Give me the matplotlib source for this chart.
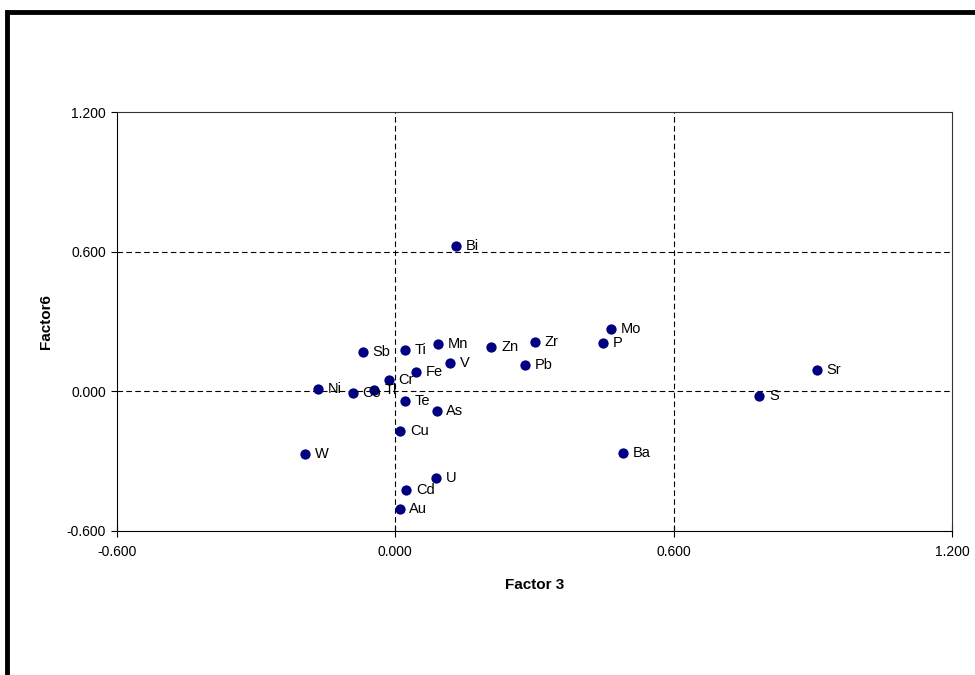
import matplotlib
matplotlib.use("Agg")
import matplotlib.pyplot as plt
from matplotlib.patches import Rectangle

plt.rcParams['font.family'] = ['Liberation Sans', 'DejaVu Sans']

elements = ["Sb", "Ti", "Mn", "V", "Fe", "Cr", "Ni", "Co", "Tl", "Te", "As", "Cu",
            "W", "U", "Cd", "Au", "Bi", "Zn", "Zr", "Pb", "Mo", "P", "Sr", "S", "Ba"]
factor3 = [-0.070, 0.020, 0.092, 0.118, 0.044, -0.014, -0.166, -0.092, -0.045, 0.020, 0.089, 0.011,
           -0.194, 0.087, 0.024, 0.009, 0.130, 0.207, 0.300, 0.280, 0.465, 0.448, 0.908, 0.785, 0.490]
factor6 = [0.170, 0.176, 0.203, 0.122, 0.081, 0.050, 0.010, -0.007, 0.004, -0.040, -0.083, -0.171,
           -0.268, -0.374, -0.426, -0.504, 0.625, 0.189, 0.213, 0.111, 0.269, 0.206, 0.093, -0.021, -0.267]
ticks = [-0.6, 0.0, 0.6, 1.2]

fig = plt.figure(figsize=(9.75, 6.75), dpi=100)
ax = fig.add_axes([117/975, 1 - 531/675, (952-117)/975, (531-112)/675])

ax.set_xlim(-0.6, 1.2)
ax.set_ylim(-0.6, 1.2)
for t in ticks[1:-1]:
    ax.axvline(t, color='black', lw=0.8, dashes=(5, 3), zorder=1)
    ax.axhline(t, color='black', lw=0.8, dashes=(5, 3), zorder=1)

ax.scatter(factor3, factor6, s=55, color='#000080', zorder=3, linewidths=0)
for name, x, y in zip(elements, factor3, factor6):
    ax.annotate(name, (x, y), xytext=(7, 0), textcoords='offset points',
                va='center', ha='left', fontsize=10.5, zorder=4)

ax.set_xticks(ticks)
ax.set_yticks(ticks)
ax.set_xticklabels([f"{t:.3f}" for t in ticks], fontsize=10)
ax.set_yticklabels([f"{t:.3f}" for t in ticks], fontsize=10)
ax.tick_params(axis='x', direction='inout', length=8, width=0.8, pad=6)
ax.tick_params(axis='y', direction='out', length=4, width=0.8, pad=4)
for s in ax.spines.values():
    s.set_linewidth(0.8)
    s.set_color('#333333')
ax.spines['left'].set_color('black')
ax.spines['bottom'].set_color('black')

ax.set_xlabel("Factor 3", fontsize=11, fontweight='bold', labelpad=14)
ax.set_ylabel("Factor6", fontsize=11, fontweight='bold', labelpad=10)

fig.patches.append(Rectangle((7/975, -0.1), 1.2, 1 - 12/675 + 0.1, transform=fig.transFigure,
                             fill=False, edgecolor='black', linewidth=3.5, zorder=0))

fig.savefig("out.png", dpi=100)
